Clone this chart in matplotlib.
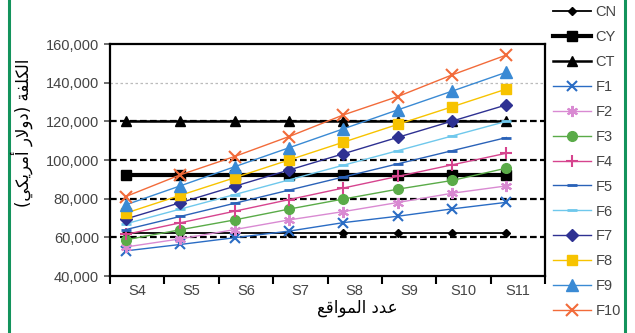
import matplotlib
matplotlib.use("Agg")
import matplotlib.pyplot as plt
from matplotlib.lines import Line2D
import numpy as np

# ---- data -------------------------------------------------------------
sites = ["S4", "S5", "S6", "S7", "S8", "S9", "S10", "S11"]

cn = [62000] * 8
cy = [92000] * 8
ct = [120000] * 8
f1 = [53000, 56300, 59800, 63200, 67600, 70900, 74700, 78100]
f2 = [55000, 59200, 64000, 69000, 73300, 78000, 82800, 86600]
f3 = [58700, 63900, 69000, 74600, 79800, 84900, 89400, 95800]
f4 = [61500, 67500, 73500, 79500, 85500, 91500, 97500, 103500]
f5 = [64000, 70800, 77600, 84400, 91200, 98000, 104800, 111600]
f6 = [67000, 74600, 82100, 89700, 97300, 104800, 112400, 120000]
f7 = [69500, 77900, 86400, 94800, 103200, 111700, 120100, 128500]
f8 = [72500, 81700, 90800, 100000, 109200, 118400, 127500, 136700]
f9 = [76800, 86600, 96500, 106300, 116100, 125900, 135600, 145400]
f10 = [81100, 92300, 101800, 112100, 123300, 132800, 144000, 154300]

y_ticks = [40000, 60000, 80000, 100000, 120000, 140000, 160000]

# Arabic labels, pre-shaped (presentation forms, visual order)
y_label = ("(\uFEF2\uFEDC\uFEF3\uFEAE\uFEE3\uFE83 \uFEAD\uFEFB\uFEED\uFEA9) "
           "\uFE94\uFED4\uFEE0\uFEDC\uFEDF\uFE8D")
x_label = "\uFECA\uFED7\uFE8D\uFEEE\uFEE4\uFEDF\uFE8D \uFEA9\uFEAA\uFECB"

# ---- styles -----------------------------------------------------------
series = [
    ("CN", cn, dict(color="black", lw=1.3, marker="D", ms=4)),
    ("CY", cy, dict(color="black", lw=3.0, marker="s", ms=7)),
    ("CT", ct, dict(color="black", lw=1.8, marker="^", ms=7)),
    ("F1", f1, dict(color="#2a6cc4", lw=1.0, marker="x", ms=7, mew=1.5)),
    ("F2", f2, dict(color="#d98ad2", lw=1.0, marker=(6, 2, 0), ms=8, mew=1.5)),
    ("F3", f3, dict(color="#5aab48", lw=1.0, marker="o", ms=7)),
    ("F4", f4, dict(color="#d6448e", lw=1.0, marker="+", ms=8, mew=1.5)),
    ("F5", f5, dict(color="#2a62b8", lw=1.0, marker="_", ms=7, mew=2)),
    ("F6", f6, dict(color="#6fc8ec", lw=1.0, marker="_", ms=7, mew=2)),
    ("F7", f7, dict(color="#2e3192", lw=1.0, marker="D", ms=6)),
    ("F8", f8, dict(color="#f7c300", lw=1.0, marker="s", ms=7)),
    ("F9", f9, dict(color="#3a8ad4", lw=1.0, marker="^", ms=8)),
    ("F10", f10, dict(color="#f26b3a", lw=1.0, marker="x", ms=8, mew=1.5)),
]

text_color = "#444444"

fig = plt.figure(figsize=(6.35, 3.33), dpi=100)
ax = fig.add_axes([110 / 635, 1 - 276 / 333, 435 / 635, 232 / 333])

ax.set_xlim(-0.5, len(sites) - 0.5)
ax.set_ylim(40000, 160000)

# horizontal guide lines
for v in [60000, 80000, 100000, 120000]:
    ax.axhline(v, color="black", lw=1.6, ls=(0, (3, 1.5)), zorder=1)
ax.axhline(140000, color="#bbbbbb", lw=0.9, ls=(0, (2, 2)), zorder=1)

x = np.arange(len(sites)) - 0.21
handles = []
for name, vals, st in series:
    ln, = ax.plot(x, vals, label=name, zorder=3, **st)
    handles.append(ln)

# category boundaries as ticks, labels centered between them
ax.set_xticks(np.arange(len(sites) + 1) - 0.5)
ax.set_xticklabels([])
ax.set_xticks(np.arange(len(sites)), minor=True)
ax.set_xticklabels(sites, minor=True, fontsize=10.5, color=text_color,
                   family="Liberation Sans")
ax.tick_params(axis="x", which="major", direction="out", length=6, width=1.5,
               color="black")
ax.tick_params(axis="x", which="minor", length=0, pad=6)

ax.set_yticks(y_ticks)
ax.set_yticklabels([f"{v:,}" for v in y_ticks], fontsize=10.5,
                   color=text_color, family="Liberation Sans")
ax.tick_params(axis="y", direction="out", length=4, width=1.2, color="#555555",
               pad=4)

for sp in ax.spines.values():
    sp.set_linewidth(1.6)
    sp.set_color("black")

fig.text(22 / 635, 1 - 133 / 333, y_label, rotation=90, ha="center",
         va="center", fontsize=12, family="DejaVu Sans", color="black")
fig.text(357 / 635, 1 - 308 / 333, x_label, ha="center", va="center",
         fontsize=12, family="DejaVu Sans", color="black")

leg = fig.legend(handles=handles, loc="upper left",
                 bbox_to_anchor=(553 / 635, 1 - 5 / 333), frameon=False,
                 handlelength=2.6, labelspacing=0.75,
                 handletextpad=0.3, borderaxespad=0, borderpad=0,
                 prop=dict(family="Liberation Sans", size=10.5))
for t in leg.get_texts():
    t.set_color(text_color)

# green page rules at both sides
for xp in (9 / 635, 625 / 635):
    fig.add_artist(Line2D([xp, xp], [0, 1], transform=fig.transFigure,
                          color="#13935c", lw=2.2))

fig.savefig("out.png", dpi=100)
